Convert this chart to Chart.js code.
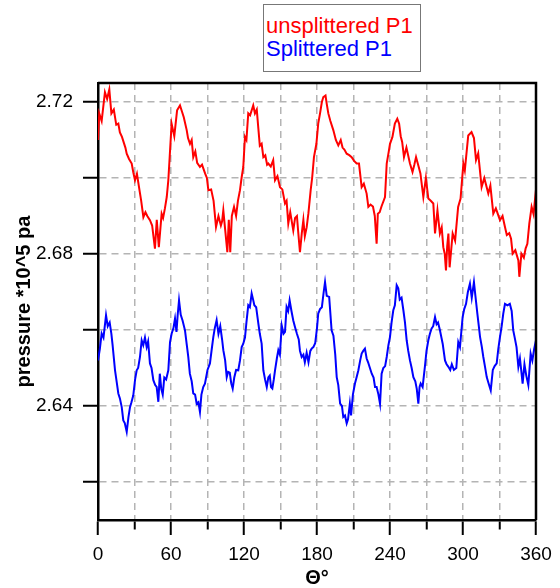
<!DOCTYPE html>
<html>
<head>
<meta charset="utf-8">
<script src="https://cdn.jsdelivr.net/npm/chart.js@4.4.1/dist/chart.umd.min.js"></script>
<style>
  body { margin: 0; background: #fff; }
  #wrap { position: relative; width: 560px; height: 588px; }
  #legend {
    position: absolute; left: 263px; top: 4px; width: 158px; height: 68px;
    border: 1px solid #777; background: #fff; box-sizing: border-box;
    font: 22px "Liberation Sans", Arial, sans-serif; line-height: 23px;
    padding: 9px 0 0 2px;
  }
  #legend div { white-space: nowrap; }
</style>
</head>
<body>
<div id="wrap">
  <canvas id="pressure-chart" width="560" height="588"></canvas>
  <div id="legend">
    <div style="color:#ff0000">unsplittered P1</div>
    <div style="color:#0000ff">Splittered P1</div>
  </div>
</div>
<script>
// crank angle (deg) and pressure (*10^5 Pa)
var thetaRed = [0, 1, 3, 5.7, 7.5, 9.3, 11, 13, 15, 16.7, 18, 19.7, 21, 22.5, 23.6, 25.5, 27.7, 29, 30.4, 32,
  34, 35.5, 37.3, 39, 40.5, 42.7, 44.5, 46.8, 48.3, 50, 52.3, 53.5, 55, 56.5, 57.8, 59, 60.5, 62.7, 65, 67.4,
  69, 70.5, 72.9, 74, 75.6, 77, 78.3, 80, 81.5, 83.8, 85.5, 88, 89.5, 90.7, 93, 95, 97, 99, 101, 102,
  103, 104.5, 106.3, 107.5, 108.7, 110, 111.8, 113.5, 115, 116.7, 118, 119.4, 120.8, 122, 123.5, 125, 127.6, 129, 130.5, 131.8,
  133, 134.5, 135.9, 137.5, 139, 140, 142, 144, 145.5, 147.5, 149.6, 151.5, 153.7, 155, 156.4, 158, 160.5, 162, 163.5, 164.5,
  166, 167.5, 168.8, 170, 171.5, 172.9, 174.8, 176, 177.5, 179.5, 181, 182.5, 184, 185.2, 187, 188, 189.3, 191, 193.4, 195.5,
  197.5, 199.5, 201, 202.5, 204.4, 206.5, 208.5, 210.5, 212.6, 214.5, 216.7, 218.5, 220.8, 222.2, 224, 226, 227.5, 229, 230, 231.5,
  233, 235.9, 237.3, 239, 240, 242, 244, 246, 247.5, 248.8, 250, 251.5, 253.5, 256.4, 258.5, 260, 261.4, 263.5, 265, 267.4,
  269.5, 271.5, 273.5, 275.6, 277, 279, 281, 282.5, 283.8, 285, 286, 287, 288, 289, 291.5, 293.5, 296, 298, 300.3, 301.5,
  304.3, 307, 309, 310.7, 312.5, 315.3, 317.5, 320.8, 322.5, 324.9, 327, 330.4, 332.5, 334.5, 336, 338, 339.5, 340.8, 343, 345.5,
  346.3, 348, 350, 351.5, 352.9, 354.5, 356.4, 358, 360];
var pressureRed = [2.710, 2.717, 2.715, 2.7226, 2.7208, 2.7233, 2.717, 2.718, 2.714, 2.7143, 2.712, 2.7108, 2.7095, 2.708, 2.7064, 2.705, 2.7038, 2.7015, 2.6994, 2.7011,
  2.697, 2.694, 2.6897, 2.691, 2.690, 2.6889, 2.6875, 2.6814, 2.689, 2.6818, 2.6906, 2.6895, 2.692, 2.695, 2.6994, 2.706, 2.7143, 2.711, 2.7178, 2.7191,
  2.7175, 2.716, 2.7126, 2.7105, 2.709, 2.710, 2.7055, 2.707, 2.704, 2.7029, 2.7035, 2.7012, 2.700, 2.6968, 2.697, 2.694, 2.6871, 2.690, 2.6875, 2.6886,
  2.6915, 2.6865, 2.6805, 2.689, 2.6805, 2.690, 2.6924, 2.690, 2.694, 2.6968, 2.700, 2.7029, 2.7108, 2.710, 2.717, 2.7165, 2.7191, 2.717, 2.718, 2.713,
  2.7085, 2.709, 2.7055, 2.706, 2.7035, 2.7038, 2.703, 2.7047, 2.6994, 2.7005, 2.6976, 2.697, 2.6933, 2.694, 2.688, 2.691, 2.6862, 2.6895, 2.690, 2.686,
  2.6805, 2.6855, 2.689, 2.6847, 2.687, 2.6906, 2.6968, 2.700, 2.7055, 2.709, 2.7143, 2.717, 2.720, 2.7213, 2.7217, 2.7195, 2.717, 2.715, 2.7126, 2.710,
  2.7086, 2.710, 2.708, 2.7075, 2.7064, 2.706, 2.7055, 2.7045, 2.7038, 2.7038, 2.6976, 2.6985, 2.6959, 2.6924, 2.693, 2.6925, 2.690, 2.6827, 2.6906, 2.691,
  2.6925, 2.695, 2.7038, 2.707, 2.709, 2.7108, 2.7143, 2.7156, 2.7143, 2.711, 2.7095, 2.7055, 2.708, 2.7038, 2.7016, 2.7035, 2.7055, 2.703, 2.7012, 2.695,
  2.700, 2.6946, 2.694, 2.6933, 2.6854, 2.6915, 2.6854, 2.687, 2.6818, 2.680, 2.6757, 2.682, 2.6854, 2.6765, 2.6854, 2.6835, 2.6924, 2.6946, 2.7038, 2.702,
  2.7112, 2.7121, 2.7105, 2.7047, 2.7065, 2.6976, 2.700, 2.6959, 2.698, 2.6906, 2.692, 2.6889, 2.690, 2.6871, 2.685, 2.6855, 2.684, 2.6801, 2.681, 2.6783,
  2.674, 2.6801, 2.679, 2.6815, 2.6827, 2.688, 2.6924, 2.6905, 2.697];

var thetaBlue = [0, 1.5, 3, 4.5, 6.6, 8, 9.6, 11, 12, 14, 15.5, 16.7, 18, 19.5, 20.8, 22, 23.6, 25, 26.3, 27.5,
  29, 30.5, 31.8, 33, 34.5, 35.9, 37.2, 38.6, 40, 41.2, 42.7, 44, 45.5, 47, 48.2, 49.6, 50.8, 52, 53.2, 54.5,
  56, 57.8, 59.2, 60.5, 62, 63.3, 64.5, 65.5, 66.6, 68, 69.5, 71.5, 73, 74.2, 75.5, 77, 78.3, 79.8, 81.1, 82.5,
  83.8, 85, 86.5, 87.9, 90, 92, 93.5, 94.8, 96, 97.5, 99, 100.5, 102, 103, 104.5, 105.8, 107, 108.3, 109.5, 110.7,
  112, 113.5, 115.3, 116.7, 118.1, 119.4, 120.8, 122, 123.5, 124.8, 126.3, 127.5, 128.5, 130, 131.8, 133, 134.5, 135.9, 137.3, 138.7,
  140, 141.2, 142.2, 143.3, 144.5, 145.5, 147, 148.2, 149.5, 151, 152.5, 153.7, 155, 156.3, 157.5, 159, 160.5, 161.9, 163.5, 165,
  166, 167.4, 168.8, 170, 171.5, 173, 174.5, 175.6, 177, 178.5, 180, 181, 182.5, 184, 185.5, 186.6, 188, 190, 192, 193.5,
  195, 196.2, 197.5, 199, 200.5, 201.6, 203, 204.4, 205.5, 207, 208, 209.5, 211.2, 212.5, 214, 215.5, 216.7, 218, 219.4, 220.8,
  222, 223.5, 225, 226.5, 227.7, 229, 230.5, 231.8, 233.1, 234.5, 236, 237.3, 238.7, 240, 241.3, 242.7, 244, 245.5, 246.8, 248,
  249.5, 251, 252.3, 253.7, 255, 256.4, 257.8, 259.2, 260.8, 262, 263.3, 264.3, 265.2, 266.8, 268.8, 270, 271.5, 272.8, 274.2, 275.5,
  277, 278.3, 279.5, 281, 283.3, 285.2, 286.5, 288, 289.5, 290.8, 292.5, 294.5, 296.1, 297.5, 299.7, 301, 302.5, 304, 305.7, 307.2,
  309, 310.2, 311.8, 313, 314, 315.5, 316.7, 318, 319.5, 321, 322.8, 324.5, 326, 327.7, 329, 330.4, 331.8, 333.1, 334.5, 336.5,
  338.5, 340, 341.3, 342.5, 344, 345.5, 346.8, 348, 349, 350.5, 352, 353.7, 355.6, 357, 358.5, 360];
var pressureBlue = [2.652, 2.655, 2.6591, 2.658, 2.6639, 2.661, 2.662, 2.659, 2.656, 2.6494, 2.646, 2.6433, 2.642, 2.6397, 2.6362, 2.6355, 2.6332, 2.637, 2.6397, 2.641,
  2.6428, 2.647, 2.6494, 2.650, 2.6529, 2.6573, 2.656, 2.658, 2.6555, 2.657, 2.6512, 2.650, 2.6468, 2.6455, 2.645, 2.6411, 2.6485, 2.6445, 2.643, 2.6475,
  2.647, 2.6494, 2.6568, 2.659, 2.6605, 2.663, 2.6595, 2.664, 2.6678, 2.664, 2.6625, 2.6599, 2.656, 2.6529, 2.6485, 2.6465, 2.6433, 2.643, 2.6406, 2.641,
  2.6384, 2.643, 2.645, 2.6459, 2.6495, 2.6512, 2.655, 2.6582, 2.6605, 2.6626, 2.659, 2.661, 2.6575, 2.6547, 2.652, 2.6476, 2.649, 2.6488, 2.646, 2.6446,
  2.6475, 2.6495, 2.6494, 2.652, 2.6555, 2.6564, 2.658, 2.662, 2.6665, 2.666, 2.6696, 2.668, 2.6665, 2.666, 2.6617, 2.659, 2.6564, 2.6494, 2.647, 2.645,
  2.6475, 2.648, 2.645, 2.6446, 2.647, 2.6494, 2.6525, 2.6547, 2.6535, 2.6612, 2.659, 2.6595, 2.6661, 2.665, 2.6678, 2.665, 2.6625, 2.6608, 2.659, 2.6575,
  2.6545, 2.6529, 2.6535, 2.6515, 2.654, 2.6515, 2.6545, 2.6551, 2.6555, 2.6565, 2.6605, 2.6643, 2.6655, 2.666, 2.670, 2.6726, 2.669, 2.6687, 2.6599, 2.6585,
  2.6535, 2.6476, 2.6455, 2.6406, 2.640, 2.6371, 2.6375, 2.6354, 2.6365, 2.6406, 2.6375, 2.643, 2.6459, 2.6475, 2.6494, 2.652, 2.6538, 2.6545, 2.6551, 2.6525,
  2.6515, 2.650, 2.6485, 2.6475, 2.645, 2.645, 2.643, 2.6406, 2.6485, 2.650, 2.6505, 2.6529, 2.656, 2.6582, 2.662, 2.6652, 2.6665, 2.6718, 2.671, 2.668,
  2.6685, 2.6652, 2.662, 2.6573, 2.6545, 2.652, 2.650, 2.6476, 2.6465, 2.6445, 2.6406, 2.645, 2.6459, 2.645, 2.6507, 2.6545, 2.6573, 2.659, 2.6604, 2.661,
  2.6634, 2.6615, 2.662, 2.660, 2.6564, 2.652, 2.651, 2.6503, 2.6495, 2.651, 2.6495, 2.650, 2.6568, 2.6555, 2.6634, 2.6655, 2.6669, 2.670, 2.6722, 2.6685,
  2.6726, 2.669, 2.6643, 2.661, 2.6582, 2.6555, 2.6529, 2.6505, 2.6476, 2.646, 2.6441, 2.6495, 2.6505, 2.6512, 2.655, 2.6582, 2.661, 2.6643, 2.6669, 2.6665,
  2.6669, 2.665, 2.6599, 2.658, 2.6555, 2.6503, 2.6525, 2.649, 2.6459, 2.651, 2.648, 2.6455, 2.6538, 2.652, 2.655, 2.6573];

var xTicks = [0, 30, 60, 90, 120, 150, 180, 210, 240, 270, 300, 330, 360];
var xTickText = ['0', '', '60', '', '120', '', '180', '', '240', '', '300', '', '360'];
var yTicks = [2.62, 2.64, 2.66, 2.68, 2.70, 2.72];
var yTickText = ['', '2.64', '', '2.68', '', '2.72'];

function toPoints(xs, ys) {
    return xs.map(function(x, i) { return { x: x, y: ys[i] }; });
}

var tickFont = { family: '"Liberation Sans", Arial, sans-serif', size: 19 };
var titleFont = { family: '"Liberation Sans", Arial, sans-serif', size: 20, weight: 'bold' };

// plot frame (top and right edges)
var framePlugin = {
    id: 'frame',
    afterDatasetsDraw: function(chart) {
        var a = chart.chartArea, ctx = chart.ctx;
        ctx.save();
        ctx.strokeStyle = '#000';
        ctx.lineWidth = 2.5;
        ctx.beginPath();
        ctx.moveTo(a.left, a.top);
        ctx.lineTo(a.right, a.top);
        ctx.lineTo(a.right, a.bottom);
        ctx.stroke();
        ctx.restore();
    }
};

var ctx = document.getElementById('pressure-chart');
var chart = new Chart(ctx, {
    type: 'line',
    data: {
        datasets: [{
            label: 'unsplittered P1',
            data: toPoints(thetaRed, pressureRed),
            borderColor: '#ff0000',
            borderWidth: 2,
            pointRadius: 0,
            tension: 0
        }, {
            label: 'Splittered P1',
            data: toPoints(thetaBlue, pressureBlue),
            borderColor: '#0000ff',
            borderWidth: 2,
            pointRadius: 0,
            tension: 0
        }]
    },
    options: {
        responsive: false,
        animation: false,
        layout: { padding: { top: 83, right: 24, bottom: 0, left: 0 } },
        plugins: {
            legend: { display: false },
            tooltip: { enabled: false }
        },
        scales: {
            x: {
                type: 'linear',
                min: 0,
                max: 360,
                afterBuildTicks: function(scale) {
                    scale.ticks = xTicks.map(function(v) { return { value: v }; });
                },
                afterFit: function(scale) { scale.height = 68; },
                ticks: {
                    autoSkip: false,
                    maxRotation: 0,
                    color: '#000',
                    font: tickFont,
                    padding: 8,
                    callback: function(v, i) { return xTickText[i]; }
                },
                grid: {
                    color: '#b4b4b4',
                    lineWidth: 1.5,
                    tickLength: 15,
                    tickColor: '#000',
                    tickWidth: 2,
                    tickBorderDash: function(c) {
                        return (c.tick && c.tick.value % 60 === 0) ? [] : [8, 100];
                    }
                },
                border: { color: '#000', width: 2.5, dash: [7, 5] },
                title: {
                    display: true,
                    text: 'Θ°',
                    color: '#000',
                    font: titleFont,
                    padding: { top: 0, bottom: -2 }
                }
            },
            y: {
                min: 2.61,
                max: 2.725,
                afterBuildTicks: function(scale) {
                    scale.ticks = yTicks.map(function(v) { return { value: v }; });
                },
                afterFit: function(scale) { scale.width = 98; },
                ticks: {
                    color: '#000',
                    font: tickFont,
                    padding: 10,
                    callback: function(v, i) { return yTickText[i]; }
                },
                grid: {
                    color: '#b4b4b4',
                    lineWidth: 1.5,
                    tickLength: 15,
                    tickColor: '#000',
                    tickWidth: 2,
                    tickBorderDash: []
                },
                border: { color: '#000', width: 2.5, dash: [7, 5] },
                title: {
                    display: true,
                    text: 'pressure *10^5 pa',
                    color: '#000',
                    font: titleFont,
                    padding: { top: 12, bottom: 0 }
                }
            }
        }
    },
    plugins: [framePlugin]
});
</script>
</body>
</html>
